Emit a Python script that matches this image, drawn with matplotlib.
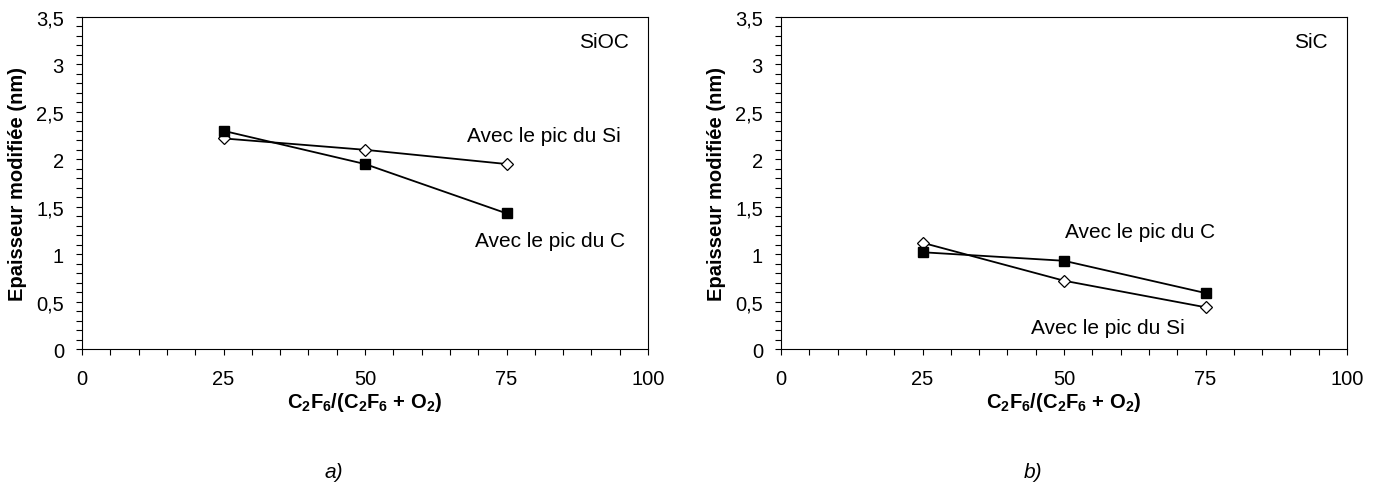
import matplotlib
matplotlib.use("Agg")
import matplotlib.pyplot as plt
from matplotlib.ticker import MultipleLocator, FuncFormatter

plt.rcParams['font.family'] = ['Liberation Sans', 'DejaVu Sans']
plt.rcParams['mathtext.default'] = 'regular'

ratio = [25, 50, 75]
sioc_si = [2.22, 2.10, 1.95]
sioc_c = [2.30, 1.95, 1.43]
sic_si = [1.12, 0.72, 0.44]
sic_c = [1.02, 0.93, 0.59]

panels = [
    dict(si=sioc_si, c=sioc_c, title="SiOC", label="a)",
         si_txt=(68.0, 2.193), c_txt=(69.4, 1.083), left=82),
    dict(si=sic_si, c=sic_c, title="SiC", label="b)",
         si_txt=(44.1, 0.165), c_txt=(50.2, 1.184), left=781),
]

W, H = 1380, 489
fig = plt.figure(figsize=(W / 100, H / 100), dpi=100)

fmt = FuncFormatter(lambda v, p: ("%g" % v).replace(".", ","))

for p in panels:
    ax = fig.add_axes([p["left"] / W, (H - 350) / H, 566 / W, 332 / H])
    ax.plot(ratio, p["si"], color="black", lw=1.3, marker="D", ms=6,
            mfc="white", mec="black", mew=0.9, zorder=3)
    ax.plot(ratio, p["c"], color="black", lw=1.3, marker="s", ms=7.7,
            mfc="black", mec="black", zorder=3)
    ax.set_xlim(0, 100)
    ax.set_ylim(0, 3.5)
    ax.xaxis.set_major_locator(MultipleLocator(25))
    ax.xaxis.set_minor_locator(MultipleLocator(5))
    ax.yaxis.set_major_locator(MultipleLocator(0.5))
    ax.yaxis.set_minor_locator(MultipleLocator(0.1))
    ax.yaxis.set_major_formatter(fmt)
    ax.tick_params(which="both", direction="out", length=4.5, width=0.8,
                   top=False, right=False)
    ax.tick_params(axis="x", which="major", pad=10, labelsize=14.5)
    ax.tick_params(axis="y", which="major", pad=8.5, labelsize=14.5)
    for s in ax.spines.values():
        s.set_linewidth(0.8)
    ax.set_ylabel("Epaisseur modifiée (nm)", fontsize=14.5, fontweight="bold")
    ax.yaxis.set_label_coords(-0.097, 0.5)
    ax.set_xlabel("C$_2$F$_6$/(C$_2$F$_6$ + O$_2$)", fontsize=14.5,
                  fontweight="bold")
    ax.xaxis.set_label_coords(0.5, -0.122)
    ax.text(96.6, 3.187, p["title"], ha="right", va="baseline", fontsize=15)
    ax.text(p["si_txt"][0], p["si_txt"][1], "Avec le pic du Si", ha="left",
            va="baseline", fontsize=15)
    ax.text(p["c_txt"][0], p["c_txt"][1], "Avec le pic du C", ha="left",
            va="baseline", fontsize=15)
    ax.text(0.445, -0.37, p["label"], transform=ax.transAxes, ha="center",
            va="center", fontsize=15, style="italic")

fig.savefig("out.png", dpi=100)
